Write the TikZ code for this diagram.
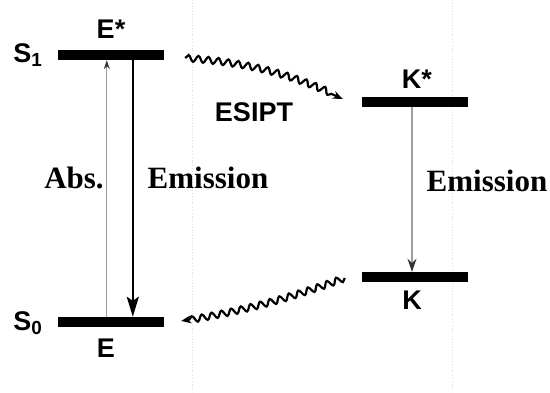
\documentclass[tikz,border=0pt]{standalone}
\usepackage{fontspec}
\setmainfont{Liberation Serif}
\setsansfont{Liberation Sans}
\usetikzlibrary{arrows.meta,decorations.pathmorphing}
\begin{document}
\begin{tikzpicture}[x=1pt,y=-1pt,
  bar/.style={fill=black,draw=none,rectangle,inner sep=0pt,minimum width=106pt,minimum height=10pt},
  slabel/.style={font=\sffamily\bfseries\fontsize{27}{30}\selectfont,inner sep=0pt,anchor=base},
  rlabel/.style={font=\rmfamily\bfseries\fontsize{31}{34}\selectfont,inner sep=0pt},
  absarrow/.style={draw=gray!80,line width=1pt,-{Stealth[length=9pt,width=6pt,black!80]}},
  emarrow/.style={draw=black,line width=2.5pt,-{Stealth[length=20pt,width=12pt,inset=4pt]}},
  karrow/.style={draw=gray!75,line width=1.3pt,-{Stealth[length=13pt,width=9pt,black!80]}},
  wavy/.style={draw=black,line width=2.2pt,decorate,
    decoration={snake,segment length=10pt,amplitude=3.2pt,post length=8pt},
    -{Stealth[length=10pt,width=8pt]}},
  gridline/.style={draw=gray!30,dotted,line width=0.8pt}
]
\useasboundingbox (0,0) rectangle (550,392);
% faint grid
\coordinate (g1t) at (192,0); \coordinate (g1b) at (192,392);
\coordinate (g2t) at (452,0); \coordinate (g2b) at (452,392);
\draw[gridline] (g1t) -- (g1b);
\draw[gridline] (g2t) -- (g2b);
% energy levels
\node[bar] (S1bar) at (111,55) {};
\node[bar] (S0bar) at (111,322) {};
\node[bar] (Kstar) at (415,102) {};
\node[bar] (Kbar) at (415,277) {};
% labels
\node[slabel] (S1) at (28,62) {S\textsubscript{1}};
\node[slabel] (S0) at (28,330) {S\textsubscript{0}};
\node[slabel] (Estar) at (111,38) {E*};
\node[slabel] (E) at (106,357) {E};
\node[slabel] (Klab) at (417,88) {K*};
\node[slabel] (K) at (412,309) {K};
\node[slabel] (esipt) at (254,121) {ESIPT};
\node[rlabel] (abs) at (74,178) {Abs.};
\node[rlabel] (em1) at (208,178) {Emission};
\node[rlabel] (em2) at (487,181) {Emission};
% vertical arrows
\draw[absarrow] ([xshift=49pt]S0bar.north west) -- ([xshift=49pt]S1bar.south west);
\draw[emarrow] ([xshift=75pt]S1bar.south west) -- ([xshift=75pt]S0bar.north west);
\draw[karrow] ([xshift=-3pt]Kstar.south) -- ([xshift=-3pt]Kbar.north);
% wavy arrows
\draw[wavy] ([xshift=21pt,yshift=-3pt]S1bar.east) to[bend left=10] ([xshift=-19pt,yshift=3pt]Kstar.west);
\draw[wavy] ([xshift=-17pt,yshift=-1pt]Kbar.west) to[bend left=5] ([xshift=17pt,yshift=1pt]S0bar.east);
\end{tikzpicture}
\end{document}
